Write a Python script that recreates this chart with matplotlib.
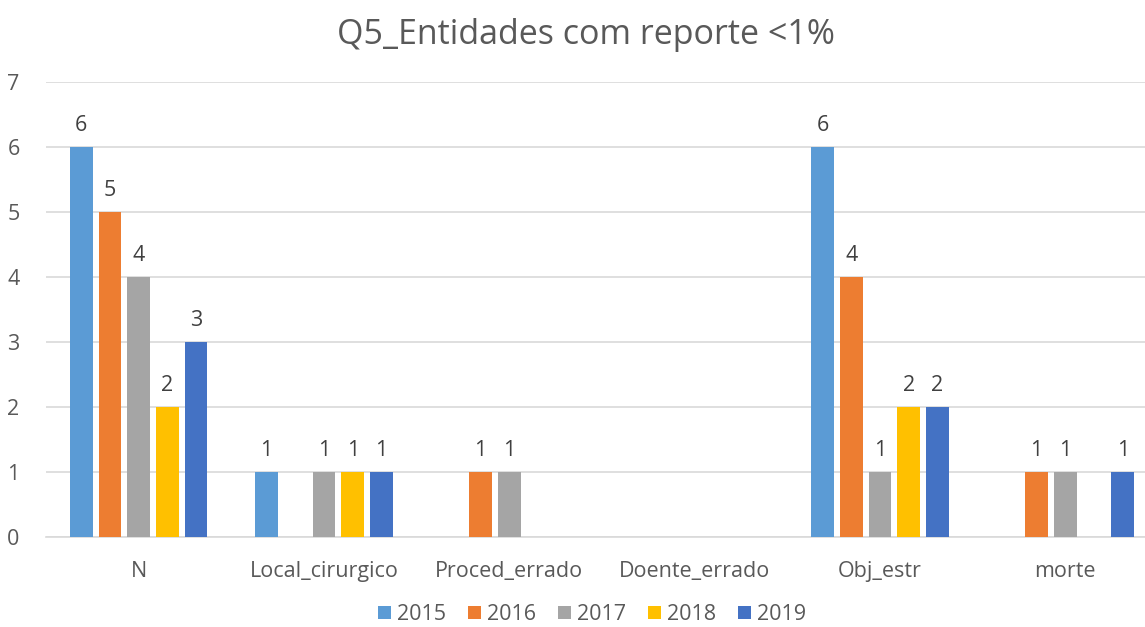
import numpy as np
import matplotlib.pyplot as plt

categories = ['N', 'Local_cirurgico', 'Proced_errado', 'Doente_errado', 'Obj_estr', 'morte']
years = ['2015', '2016', '2017', '2018', '2019']
v2015 = [6, 1, 0, 0, 6, 0]
v2016 = [5, 0, 1, 0, 4, 1]
v2017 = [4, 1, 1, 0, 1, 1]
v2018 = [2, 1, 0, 0, 2, 0]
v2019 = [3, 1, 0, 0, 2, 1]
colors = ['#5b9bd5', '#ed7d31', '#a5a5a5', '#ffc000', '#4472c4']

plt.rcParams['font.family'] = ['Open Sans', 'DejaVu Sans']
text_col = '#595959'

fig = plt.figure(figsize=(11.45, 6.27), dpi=100)
ax = fig.add_axes([46 / 1145, 90 / 627, 1112 / 1145, 455 / 627])

x = np.arange(len(categories))
step = 0.155
w = 0.122
series = [v2015, v2016, v2017, v2018, v2019]
for i, (vals, yr, c) in enumerate(zip(series, years, colors)):
    pos = x + (i - 2) * step
    # zero values are not drawn (Excel leaves them empty)
    h = np.where(np.array(vals) > 0, vals, np.nan)
    ax.bar(pos, h, w, color=c, label=yr, zorder=3)
    for p, v in zip(pos, vals):
        if v:
            ax.text(p, v + 0.17, str(v), ha='center', va='bottom',
                    fontsize=15.5, color='#404040')

ax.set_xlim(-0.5, len(categories) - 0.5)
ax.set_ylim(0, 7)
ax.set_yticks(range(8))
ax.set_xticks(x)
ax.set_xticklabels(categories)
ax.tick_params(axis='both', length=0, labelsize=15.5, colors=text_col)
ax.tick_params(axis='x', pad=17)
ax.tick_params(axis='y', pad=19)
ax.grid(axis='y', color='#d9d9d9', linewidth=1.2, zorder=0)
for s in ['right', 'top', 'left']:
    ax.spines[s].set_visible(False)
ax.spines['bottom'].set_color('#d9d9d9')
ax.spines['bottom'].set_linewidth(1.2)

fig.suptitle('Q5_Entidades com reporte <1%', x=586 / 1145, y=0.972,
             fontsize=24.5, color=text_col)
leg = fig.legend(loc='lower center', bbox_to_anchor=(592 / 1145, -0.028), ncol=5,
                 frameon=False, fontsize=15.5, handlelength=0.6, handleheight=0.6,
                 columnspacing=1.0, handletextpad=0.3, labelcolor=text_col)

fig.savefig('out.png', dpi=100)
